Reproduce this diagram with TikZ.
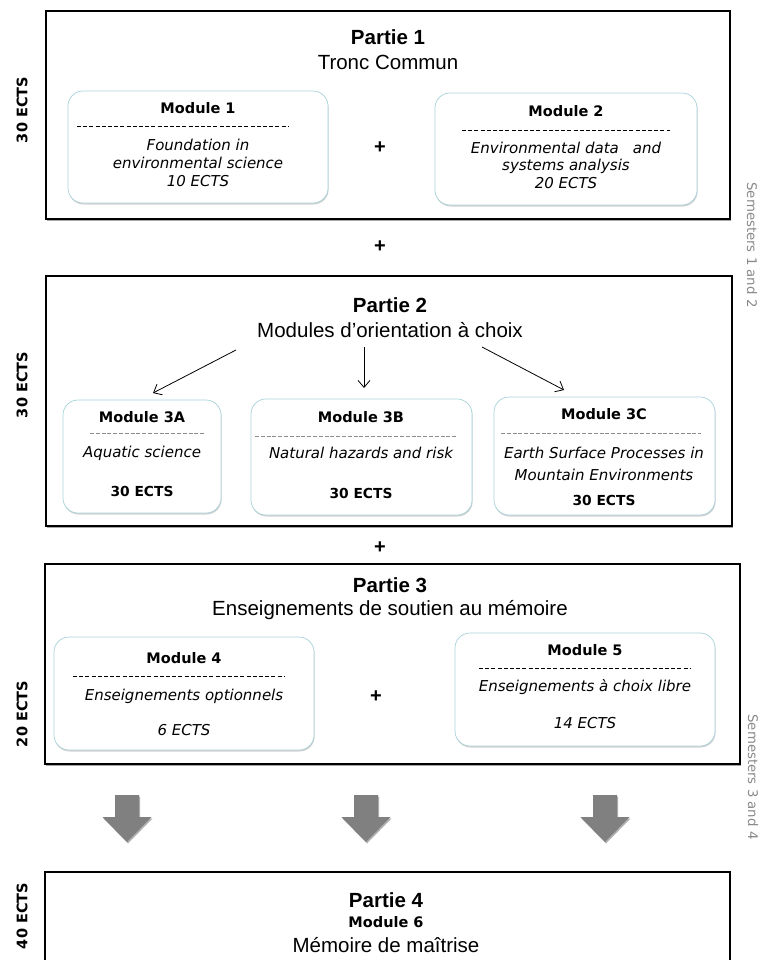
\documentclass[tikz,border=0pt]{standalone}
\usepackage{fontspec}
\setmainfont{Liberation Sans}
\newfontfamily\dv{DejaVu Sans}
\usetikzlibrary{shadows,arrows.meta}
\definecolor{modborder}{HTML}{A8D2DA}
\definecolor{bigarrow}{HTML}{808080}
\definecolor{semgray}{HTML}{8A8A8A}
\begin{document}
\begin{tikzpicture}[x=1pt,y=-1pt,
  part/.style={draw=black, line width=2pt, fill=white, inner sep=0pt, outer sep=0pt,
    drop shadow={shadow xshift=1.2pt, shadow yshift=-2pt, opacity=0.35, fill=black}},
  modbox/.style={draw=modborder, line width=0.7pt, fill=white, rounded corners=15pt, inner sep=0pt, outer sep=0pt,
    drop shadow={shadow xshift=0.6pt, shadow yshift=-1.5pt, opacity=0.18, fill=black}},
  titletext/.style={font=\bfseries\fontsize{20.5}{22}\selectfont, inner sep=0pt},
  subtext/.style={font=\fontsize{20.5}{22}\selectfont, inner sep=0pt},
  modname/.style={font=\dv\bfseries\fontsize{14.5}{16}\selectfont, inner sep=0pt},
  modtext/.style={font=\dv\itshape\fontsize{15}{16}\selectfont, inner sep=0pt},
  modects/.style={font=\dv\bfseries\fontsize{13.8}{16}\selectfont, inner sep=0pt},
  plussign/.style={font=\bfseries\fontsize{20}{22}\selectfont, inner sep=0pt},
  ectslabel/.style={font=\dv\bfseries\fontsize{14.5}{16}\selectfont, rotate=90, inner sep=0pt},
  semlabel/.style={font=\dv\fontsize{13.3}{15}\selectfont, text=semgray, rotate=-90, inner sep=0pt},
  dashblack/.style={draw=black, line width=0.8pt, dash pattern=on 4pt off 2.2pt},
  dashgray/.style={draw=black!45, line width=0.8pt, dash pattern=on 4pt off 1.8pt},
  thinarrow/.style={draw=black, line width=0.8pt, -{Straight Barb[length=7pt,width=12pt]}},
  bigarr/.style={fill=bigarrow, drop shadow={shadow xshift=1pt, shadow yshift=-1.5pt, opacity=0.3, fill=black}}
]
\useasboundingbox (0,0) rectangle (763,960);
\clip (0,0) rectangle (763,960);
\fill[white] (0,0) rectangle (763,960);

% ---------------- Partie 1
\node[part, anchor=north west, minimum width=684pt, minimum height=208pt] (P1) at (46,11) {};
\node[titletext] (P1t) at (388,37) {Partie 1};
\node[subtext] (P1s) at (388,62) {Tronc Commun};

\node[modbox, anchor=north west, minimum width=260pt, minimum height=112pt] (M1) at (68,91) {};
\node[modname] (M1n) at (198,108) {Module 1};
\draw[dashblack] (77,126) -- (288,126);
\node[modtext] (M1a) at (198,145) {Foundation in};
\node[modtext] (M1b) at (198,163) {environmental science};
\node[modtext] (M1c) at (198,181) {10 ECTS};

\node[plussign] (plA) at (380,148) {+};

\node[modbox, anchor=north west, minimum width=262pt, minimum height=112pt] (M2) at (435,93) {};
\node[modname] (M2n) at (566,111) {Module 2};
\draw[dashblack] (462,130) -- (670,130);
\node[modtext] (M2a) at (566,148) {Environmental data\hspace{14pt}and};
\node[modtext] (M2b) at (566,166) {systems analysis};
\node[modtext] (M2c) at (566,183) {20 ECTS};

\node[plussign] (plB) at (380,247) {+};

% ---------------- Partie 2
\node[part, anchor=north west, minimum width=686pt, minimum height=250pt] (P2) at (46,276) {};
\node[titletext] (P2t) at (390,305) {Partie 2};
\node[subtext] (P2s) at (390,330) {Modules d’orientation à choix};

\coordinate (a1s) at (236,350); \coordinate (a1e) at (153,393);
\coordinate (a2s) at (364,347); \coordinate (a2e) at (364,388);
\coordinate (a3s) at (482,347); \coordinate (a3e) at (564,390);
\draw[thinarrow] (a1s) -- (a1e);
\draw[thinarrow] (a2s) -- (a2e);
\draw[thinarrow] (a3s) -- (a3e);

\node[modbox, anchor=north west, minimum width=158pt, minimum height=113pt] (M3A) at (63,400) {};
\node[modname] (M3An) at (142,417) {Module 3A};
\draw[dashgray] (90,433) -- (204,433);
\node[modtext] (M3Aa) at (142,453) {Aquatic science};
\node[modects] (M3Ac) at (142,491) {30 ECTS};

\node[modbox, anchor=north west, minimum width=221pt, minimum height=116pt] (M3B) at (251,399) {};
\node[modname] (M3Bn) at (361,417) {Module 3B};
\draw[dashgray] (255,436) -- (457,436);
\node[modtext] (M3Ba) at (361,453) {Natural hazards and risk};
\node[modects] (M3Bc) at (361,493) {30 ECTS};

\node[modbox, anchor=north west, minimum width=221pt, minimum height=118pt] (M3C) at (494,397) {};
\node[modname] (M3Cn) at (604,414) {Module 3C};
\draw[dashgray] (501,433) -- (701,433);
\node[modtext] (M3Ca) at (604,453) {Earth Surface Processes in};
\node[modtext] (M3Cb) at (604,475) {Mountain Environments};
\node[modects] (M3Cc) at (604,500) {30 ECTS};

\node[plussign] (plC) at (380,548) {+};

% ---------------- Partie 3
\node[part, anchor=north west, minimum width=695pt, minimum height=200pt] (P3) at (45,564) {};
\node[titletext] (P3t) at (390,585) {Partie 3};
\node[subtext] (P3s) at (390,610) {Enseignements de soutien au mémoire};

\node[modbox, anchor=north west, minimum width=260pt, minimum height=113pt] (M4) at (54,637) {};
\node[modname] (M4n) at (184,658) {Module 4};
\draw[dashblack] (73,676) -- (285,676);
\node[modtext] (M4a) at (184,696) {Enseignements optionnels};
\node[modtext] (M4c) at (184,730) {6 ECTS};

\node[plussign] (plD) at (376,697) {+};

\node[modbox, anchor=north west, minimum width=260pt, minimum height=113pt] (M5) at (455,633) {};
\node[modname] (M5n) at (585,650) {Module 5};
\draw[dashblack] (479,668) -- (691,668);
\node[modtext] (M5a) at (585,687) {Enseignements à choix libre};
\node[modtext] (M5c) at (585,723) {14 ECTS};

% ---------------- big arrows
\foreach \cx in {127,366,605}{
  \fill[bigarr] (\cx-12,795) -- (\cx+12,795) -- (\cx+12,817) -- (\cx+24.5,817)
     -- (\cx,842) -- (\cx-24.5,817) -- (\cx-12,817) -- cycle;
}

% ---------------- Partie 4
\node[part, anchor=north west, minimum width=685pt, minimum height=130pt] (P4) at (45,872) {};
\node[titletext] (P4t) at (386,900) {Partie 4};
\node[modname] (P4m) at (386,922) {Module 6};
\node[subtext] (P4s) at (386,945) {Mémoire de maîtrise};

% ---------------- side labels
\node[ectslabel] (E1) at (22,110) {30 ECTS};
\node[ectslabel] (E2) at (22,385) {30 ECTS};
\node[ectslabel] (E3) at (22,714) {20 ECTS};
\node[ectslabel] (E4) at (22,916) {40 ECTS};
\node[semlabel] (S1) at (752,245) {Semesters 1 and 2};
\node[semlabel] (S2) at (753,777) {Semesters 3 and 4};
\end{tikzpicture}
\end{document}
